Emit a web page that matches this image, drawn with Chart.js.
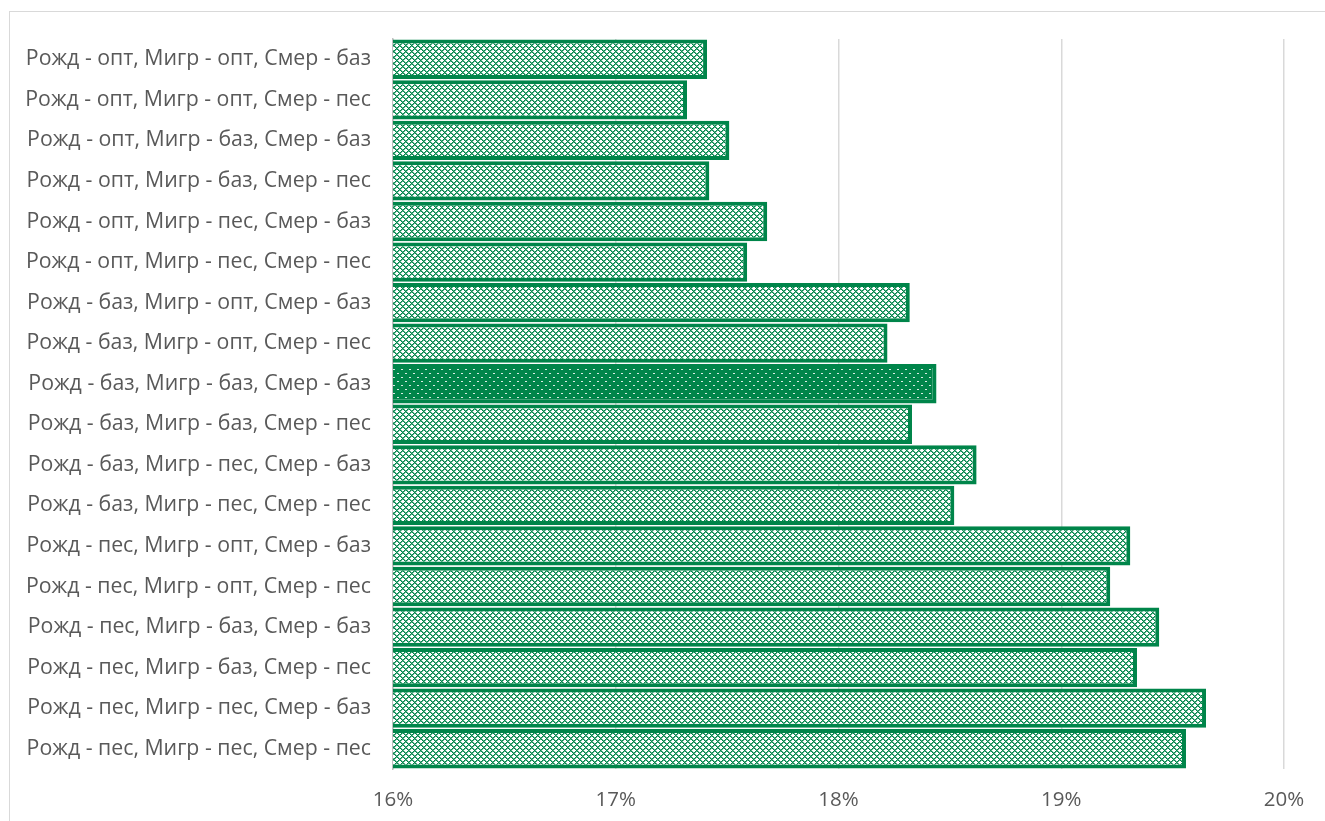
<!DOCTYPE html>
<html>
<head>
<meta charset="utf-8">
<script src="https://cdn.jsdelivr.net/npm/chart.js@4"></script>
<style>
  html, body { margin: 0; padding: 0; background: #ffffff; }
  #wrap { width: 1325px; height: 821px; position: relative; }
</style>
</head>
<body>
<div id="wrap"><canvas id="chart" width="1325" height="821"></canvas></div>
<script>
// Scenario labels (births, migration, mortality variants)
const categories = [
  'Рожд - опт, Мигр - опт, Смер - баз',
  'Рожд - опт, Мигр - опт, Смер - пес',
  'Рожд - опт, Мигр - баз, Смер - баз',
  'Рожд - опт, Мигр - баз, Смер - пес',
  'Рожд - опт, Мигр - пес, Смер - баз',
  'Рожд - опт, Мигр - пес, Смер - пес',
  'Рожд - баз, Мигр - опт, Смер - баз',
  'Рожд - баз, Мигр - опт, Смер - пес',
  'Рожд - баз, Мигр - баз, Смер - баз',
  'Рожд - баз, Мигр - баз, Смер - пес',
  'Рожд - баз, Мигр - пес, Смер - баз',
  'Рожд - баз, Мигр - пес, Смер - пес',
  'Рожд - пес, Мигр - опт, Смер - баз',
  'Рожд - пес, Мигр - опт, Смер - пес',
  'Рожд - пес, Мигр - баз, Смер - баз',
  'Рожд - пес, Мигр - баз, Смер - пес',
  'Рожд - пес, Мигр - пес, Смер - баз',
  'Рожд - пес, Мигр - пес, Смер - пес'
];

// Share, %
const values = [
  17.41, 17.32, 17.51, 17.42, 17.68, 17.59,
  18.32, 18.22, 18.44, 18.33, 18.62, 18.52,
  19.31, 19.22, 19.44, 19.34, 19.65, 19.56
];

// Base scenario index
const highlighted = [8];

const xTicks = [16, 17, 18, 19, 20];

const GREEN = '#00854A';

function makeTile(size, draw) {
  const c = document.createElement('canvas');
  c.width = size; c.height = size;
  const g = c.getContext('2d');
  draw(g);
  return document.getElementById('chart').getContext('2d').createPattern(c, 'repeat');
}

// Diamond lattice: green lines on white
const latticePattern = makeTile(6, g => {
  g.fillStyle = '#ffffff';
  g.fillRect(0, 0, 6, 6);
  for (let y = 0; y < 6; y++) {
    for (let x = 0; x < 6; x++) {
      const a = (x + y) % 6, b = (x - y + 6) % 6;
      if (a === 0 || b === 0) {
        g.fillStyle = GREEN;
        g.fillRect(x, y, 1, 1);
      } else if (a === 1 || b === 1) {
        g.fillStyle = 'rgba(0,133,74,0.62)';
        g.fillRect(x, y, 1, 1);
      }
    }
  }
});

// Dotted fill: white dots on green
const dotPattern = makeTile(8, g => {
  g.fillStyle = GREEN;
  g.fillRect(0, 0, 8, 8);
  g.fillStyle = 'rgba(255,255,255,0.85)';
  g.fillRect(1, 1, 2, 1);
  g.fillRect(5, 5, 2, 1);
});

const fills = values.map((_, i) => highlighted.includes(i) ? dotPattern : latticePattern);

// Outer frame of the chart box
const framePlugin = {
  id: 'frame',
  beforeDraw(chart) {
    const ctx = chart.ctx;
    ctx.save();
    ctx.fillStyle = '#ffffff';
    ctx.fillRect(0, 0, chart.width, chart.height);
    ctx.strokeStyle = '#d9d9d9';
    ctx.lineWidth = 1;
    ctx.strokeRect(9.5, 11.5, chart.width + 10, chart.height + 10);
    ctx.restore();
  }
};

new Chart(document.getElementById('chart'), {
  type: 'bar',
  data: {
    labels: categories,
    datasets: [{
      data: values,
      backgroundColor: fills,
      borderColor: GREEN,
      borderWidth: 4,
      borderSkipped: false,
      barPercentage: 0.97,
      categoryPercentage: 1.0
    }]
  },
  plugins: [framePlugin],
  options: {
    indexAxis: 'y',
    responsive: false,
    animation: false,
    devicePixelRatio: 1,
    layout: { padding: { top: 39, right: 41, left: 0, bottom: 0 } },
    plugins: { legend: { display: false }, tooltip: { enabled: false } },
    scales: {
      x: {
        min: 16,
        max: 20,
        afterBuildTicks(scale) { scale.ticks = xTicks.map(v => ({ value: v })); },
        afterFit(scale) { scale.height = 52; },
        ticks: {
          callback: v => v + '%',
          color: '#595959',
          font: { family: 'Open Sans', size: 20.5 },
          padding: 19
        },
        grid: { color: '#d9d9d9', lineWidth: 1.5, drawTicks: false },
        border: { display: false }
      },
      y: {
        afterFit(scale) { scale.width = 393; },
        ticks: {
          color: '#595959',
          font: { family: 'Open Sans', size: 21.3 },
          padding: 22,
          autoSkip: false
        },
        grid: { display: false, drawTicks: false },
        border: { display: true, color: '#bfbfbf', width: 1.5 }
      }
    }
  }
});
</script>
</body>
</html>
